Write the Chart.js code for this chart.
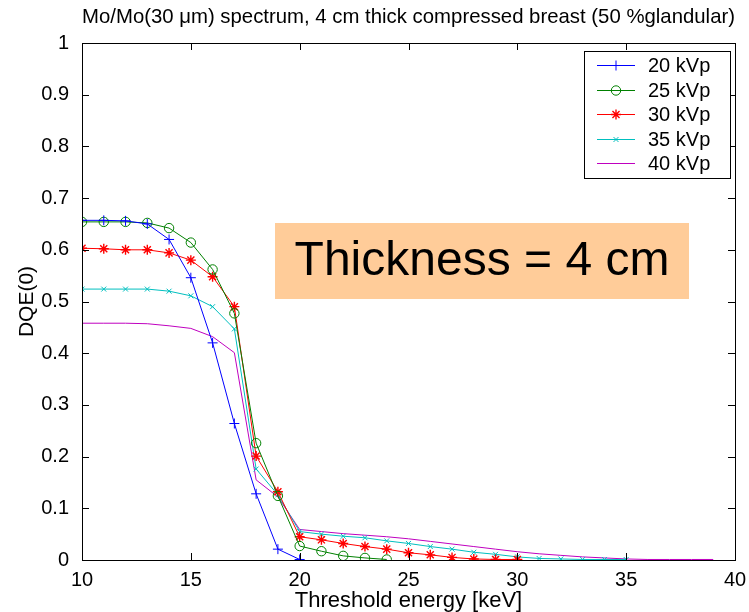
<!DOCTYPE html>
<html>
<head>
<meta charset="utf-8">
<script src="https://cdn.jsdelivr.net/npm/chart.js@4/dist/chart.umd.min.js"></script>
<style>
  html, body { margin: 0; padding: 0; background: #fff; }
  canvas { display: block; }
</style>
</head>
<body>
<canvas id="dqeChart" width="749" height="612"></canvas>
<script>
(function () {
    "use strict";

    // threshold energies start at 10 keV in 1 keV steps
    var energyStart = 10;
    var dqe20 = [0.657, 0.657, 0.656, 0.650, 0.620, 0.546, 0.420, 0.264, 0.128, 0.021, 0.001];
    var dqe25 = [0.654, 0.654, 0.654, 0.652, 0.642, 0.614, 0.562, 0.477, 0.226, 0.124, 0.027, 0.017, 0.008, 0.004, 0.001];
    var dqe30 = [0.603, 0.602, 0.600, 0.600, 0.594, 0.580, 0.548, 0.490, 0.201, 0.132, 0.045, 0.039, 0.032, 0.026, 0.021, 0.014, 0.010, 0.005, 0.002, 0.001, 0.001];
    var dqe35 = [0.524, 0.524, 0.524, 0.524, 0.520, 0.511, 0.490, 0.447, 0.176, 0.126, 0.055, 0.050, 0.046, 0.043, 0.037, 0.032, 0.026, 0.021, 0.015, 0.011, 0.006, 0.003, 0.002, 0.001, 0.001, 0.001];
    var dqe40 = [0.458, 0.458, 0.458, 0.457, 0.453, 0.448, 0.432, 0.401, 0.155, 0.122, 0.059, 0.055, 0.051, 0.048, 0.045, 0.041, 0.036, 0.031, 0.026, 0.021, 0.016, 0.012, 0.009, 0.006, 0.004, 0.002, 0.001, 0.001, 0.001, 0.001];
    var seriesLabels = ["20 kVp", "25 kVp", "30 kVp", "35 kVp", "40 kVp"];
    var xTicks = [10, 15, 20, 25, 30, 35, 40];
    var yTicks = [0, 0.1, 0.2, 0.3, 0.4, 0.5, 0.6, 0.7, 0.8, 0.9, 1];

    var FONT = "'Liberation Sans', Arial, sans-serif";

    function toPoints(values) {
        return values.map(function (v, i) { return { x: energyStart + i, y: v }; });
    }

    function series(label, values, color, style, radius) {
        return {
            label: label,
            data: toPoints(values),
            borderColor: color,
            backgroundColor: "transparent",
            borderWidth: 1,
            pointStyle: style,
            pointRadius: style ? radius : 0,
            pointBorderColor: color,
            pointBackgroundColor: "transparent",
            pointBorderWidth: style === "star" ? 1.4 : 1,
            tension: 0
        };
    }

    // MATLAB style box with inward ticks, the text box and the legend
    var matlabAxes = {
        id: "matlabAxes",
        afterDatasetsDraw: function (chart) {
            var ctx = chart.ctx;
            var a = chart.chartArea;
            var xs = chart.scales.x, ys = chart.scales.y;
            var tl = 7;
            ctx.save();
            ctx.strokeStyle = "#000";
            ctx.lineWidth = 1;
            ctx.beginPath();
            xTicks.forEach(function (t) {
                var px = Math.round(xs.getPixelForValue(t)) + 0.5;
                ctx.moveTo(px, a.bottom); ctx.lineTo(px, a.bottom - tl);
                ctx.moveTo(px, a.top); ctx.lineTo(px, a.top + tl);
            });
            yTicks.forEach(function (t) {
                var py = Math.round(ys.getPixelForValue(t)) + 0.5;
                ctx.moveTo(a.left, py); ctx.lineTo(a.left + tl, py);
                ctx.moveTo(a.right, py); ctx.lineTo(a.right - tl, py);
            });
            ctx.stroke();
            ctx.strokeRect(Math.round(a.left) + 0.5, Math.round(a.top) + 0.5,
                Math.round(a.right - a.left), Math.round(a.bottom - a.top));

            // annotation box
            ctx.fillStyle = "#FFCC99";
            ctx.fillRect(275, 223, 414, 76);
            ctx.fillStyle = "#000";
            ctx.font = "48px " + FONT;
            ctx.textAlign = "center";
            ctx.textBaseline = "middle";
            ctx.fillText("Thickness = 4 cm", 482, 262);

            // legend
            ctx.fillStyle = "#fff";
            ctx.fillRect(584, 51, 146, 127);
            ctx.strokeStyle = "#000";
            ctx.strokeRect(584.5, 51.5, 146, 127);
            ctx.font = "20px " + FONT;
            ctx.textAlign = "left";
            chart.data.datasets.forEach(function (ds, i) {
                var y = Math.round(65 + i * 24.5) + 0.5;
                ctx.strokeStyle = ds.borderColor;
                ctx.lineWidth = 1;
                ctx.beginPath();
                ctx.moveTo(597, y); ctx.lineTo(635, y);
                ctx.stroke();
                if (ds.pointStyle) {
                    ctx.fillStyle = "rgba(0,0,0,0)";
                    ctx.lineWidth = ds.pointBorderWidth;
                    Chart.helpers.drawPoint(ctx, {
                        pointStyle: ds.pointStyle, rotation: 0,
                        radius: ds.pointRadius, borderWidth: ds.pointBorderWidth
                    }, 616, y);
                }
                ctx.fillStyle = "#000";
                ctx.fillText(ds.label, 648, y + 1);
            });
            ctx.restore();
        }
    };

    var ctx = document.getElementById("dqeChart");
    new Chart(ctx, {
        type: "line",
        data: {
            datasets: [
                series(seriesLabels[0], dqe20, "#0000FF", "cross", 5),
                series(seriesLabels[1], dqe25, "#008000", "circle", 4.7),
                series(seriesLabels[2], dqe30, "#FF0000", "star", 5),
                series(seriesLabels[3], dqe35, "#00BFBF", "crossRot", 3.5),
                series(seriesLabels[4], dqe40, "#BF00BF", false, 0)
            ]
        },
        options: {
            responsive: false,
            animation: false,
            layout: { padding: { left: 0, right: 14, top: 0, bottom: 0 } },
            plugins: {
                legend: { display: false },
                tooltip: { enabled: false },
                title: {
                    display: true,
                    fullSize: false,
                    text: "Mo/Mo(30 \u03bcm) spectrum, 4 cm thick compressed breast (50 %glandular)",
                    color: "#000",
                    font: { family: FONT, size: 21, weight: "normal" },
                    padding: { top: 5, bottom: 12.8 }
                }
            },
            scales: {
                x: {
                    type: "linear",
                    min: 10,
                    max: 40,
                    afterBuildTicks: function (s) { s.ticks = xTicks.map(function (v) { return { value: v }; }); },
                    grid: { display: false },
                    border: { display: false },
                    ticks: { color: "#000", padding: 0, maxRotation: 0, font: { family: FONT, size: 20 } },
                    title: {
                        display: true,
                        text: "Threshold energy [keV]",
                        color: "#000",
                        font: { family: FONT, size: 22 },
                        padding: { top: 0, bottom: -2 }
                    },
                    afterFit: function (s) { s.height = 52; }
                },
                y: {
                    min: 0,
                    max: 1,
                    afterBuildTicks: function (s) { s.ticks = yTicks.map(function (v) { return { value: v }; }); },
                    grid: { display: false },
                    border: { display: false },
                    ticks: {
                        color: "#000", padding: 5, font: { family: FONT, size: 20 },
                        callback: function (v) { return String(+v.toFixed(1)); }
                    },
                    title: {
                        display: true,
                        text: "DQE(0)",
                        color: "#000",
                        font: { family: FONT, size: 21 },
                        padding: { top: 15, bottom: 0 }
                    },
                    afterFit: function (s) { s.width = 82; }
                }
            }
        },
        plugins: [matlabAxes]
    });
})();
</script>
</body>
</html>
